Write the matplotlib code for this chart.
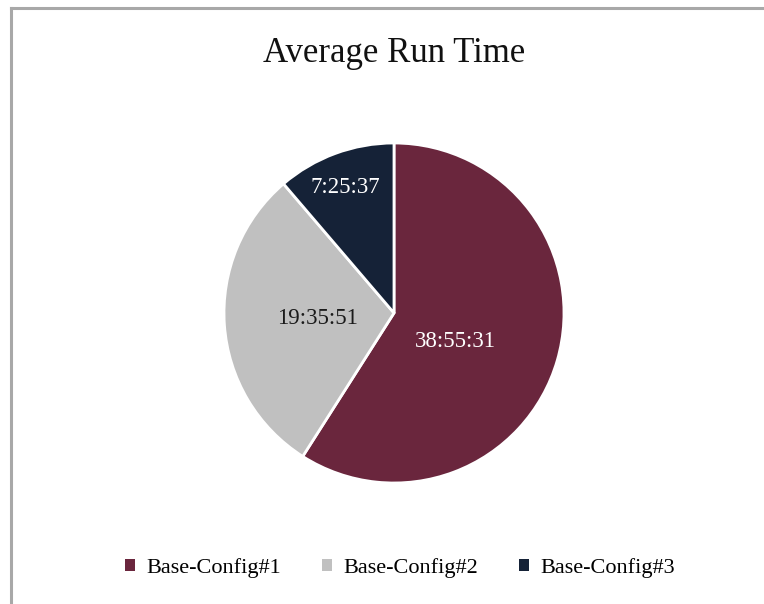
import numpy as np
import matplotlib
matplotlib.use("Agg")
import matplotlib.pyplot as plt
from matplotlib.patches import Patch
from matplotlib.lines import Line2D

plt.rcParams['font.family'] = ['Liberation Serif', 'DejaVu Serif']

categories = ["Base-Config#1", "Base-Config#2", "Base-Config#3"]
labels = ["38:55:31", "19:35:51", "7:25:37"]
colors = ["#6A263D", "#C0C0C0", "#152237"]
label_colors = ["white", "#1a1a1a", "white"]

def to_seconds(s):
    h, m, sec = (int(p) for p in s.split(":"))
    return h * 3600 + m * 60 + sec

values = [to_seconds(s) for s in labels]

W, H = 764, 604
fig = plt.figure(figsize=(W / 100, H / 100), dpi=100)

# Border lines (top and left only visible)
fig.add_artist(Line2D([11 / W, 1.0], [1 - 8 / H, 1 - 8 / H], color="#A8A8A8", lw=2.2))
fig.add_artist(Line2D([11 / W, 11 / W], [1 - 8 / H, 0.0], color="#A8A8A8", lw=2.2))

fig.text(394 / W, 1 - 54 / H, "Average Run Time", ha="center", va="center",
         fontsize=25, color="#111111")

cx, cy, r = 394, 313, 170
ax = fig.add_axes([(cx - r) / W, (H - cy - r) / H, 2 * r / W, 2 * r / H])
wedges, _ = ax.pie(values, colors=colors, startangle=90, counterclock=False,
                   radius=1.0, wedgeprops=dict(edgecolor="white", linewidth=2))
ax.set_xlim(-1, 1)
ax.set_ylim(-1, 1)
ax.set_aspect("auto")
ax.axis("off")

label_r = [0.40, 0.45, 0.79]
angle_off = [-9, 0, 1]
for w, lab, lc, rr, off in zip(wedges, labels, label_colors, label_r, angle_off):
    mid = np.deg2rad((w.theta1 + w.theta2) / 2 + off)
    ax.text(rr * np.cos(mid), rr * np.sin(mid), lab, ha="center", va="center",
            fontsize=16.5, color=lc)

handles = [Patch(facecolor=c, edgecolor="none") for c in colors]
fig.legend(handles, categories, loc="center", bbox_to_anchor=(400 / W, 1 - 568 / H),
           ncol=3, frameon=False, fontsize=16, handlelength=0.45, handleheight=0.45,
           handletextpad=0.55, columnspacing=1.8)

fig.savefig("out.png", dpi=100, facecolor="white")
